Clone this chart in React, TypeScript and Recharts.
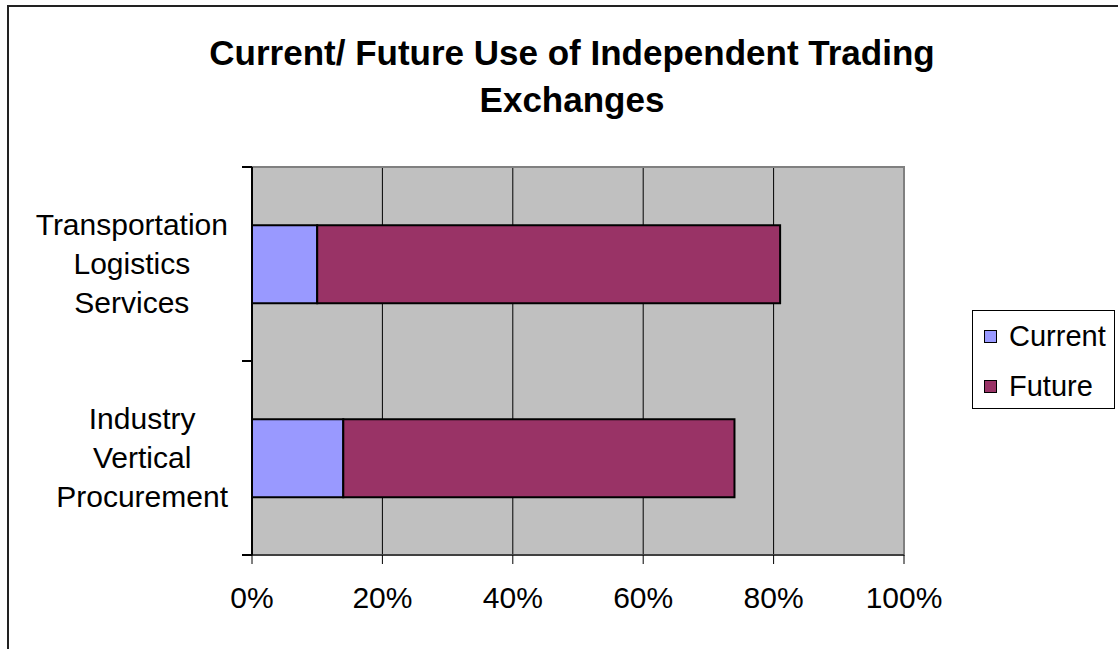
import React from "react";
import {
  BarChart,
  Bar,
  XAxis,
  YAxis,
  CartesianGrid,
  Legend,
  ReferenceArea,
} from "recharts";

const categories = [
  "Transportation Logistics Services",
  "Industry Vertical Procurement",
];
const currentValues = [10, 14];
const futureValues = [71, 60];
const xTicks = [0, 20, 40, 60, 80, 100];
const gridTicks = [20, 40, 60, 80];
const seriesKeys = ["current", "future"];
const seriesNames = ["Current", "Future"];
const seriesColors = ["#9999FF", "#993366"];

const data = categories.map((name, i) => ({
  name,
  current: currentValues[i],
  future: futureValues[i],
}));

const FONT = '"Liberation Sans", Arial, sans-serif';
const LABEL_SIZE = 30;
const AXIS_X = 252;
const LABEL_RIGHT = 228;

let measureCtx: CanvasRenderingContext2D | null = null;
function textWidth(s: string) {
  if (!measureCtx) measureCtx = document.createElement("canvas").getContext("2d");
  if (!measureCtx) return s.length * 15;
  measureCtx.font = `${LABEL_SIZE}px ${FONT}`;
  return measureCtx.measureText(s).width;
}

function CategoryTick(props: any) {
  const { y, payload } = props;
  const lines = String(payload.value).split(" ");
  const half = payload.offset ?? 97;
  const blockW = Math.max(...lines.map(textWidth));
  const cx = LABEL_RIGHT - blockW / 2;
  return (
    <g>
      <line x1={AXIS_X - 10} x2={AXIS_X} y1={y - half} y2={y - half} stroke="#000" strokeWidth={2} />
      <line x1={AXIS_X - 10} x2={AXIS_X} y1={y + half} y2={y + half} stroke="#000" strokeWidth={2} />
      <text textAnchor="middle" fontSize={LABEL_SIZE} fontFamily={FONT} fill="#000">
        {lines.map((l, i) => (
          <tspan key={i} x={cx} y={y + (i - (lines.length - 1) / 2) * 39 + 10}>
            {l}
          </tspan>
        ))}
      </text>
    </g>
  );
}

// only the inner gridlines, edges are drawn by axes / plot border
const gridGen = (p: any) => {
  const s = p?.xAxis?.scale;
  if (typeof s === "function") return gridTicks.map((v) => s(v));
  if (s && typeof s.map === "function") return gridTicks.map((v) => s.map(v));
  const off = p?.offset;
  const lo = xTicks[0];
  const hi = xTicks[xTicks.length - 1];
  return gridTicks.map((v) => off.left + (off.width * (v - lo)) / (hi - lo));
};

function LegendBox() {
  return (
    <div
      style={{
        boxSizing: "border-box",
        width: 143,
        height: 99,
        border: "1px solid #000",
        background: "#fff",
        paddingLeft: 11,
        fontFamily: FONT,
        fontSize: 29,
        lineHeight: "50px",
        color: "#000",
      }}
    >
      {seriesNames.map((n, i) => (
        <div key={n} style={{ display: "flex", alignItems: "center", height: 50 }}>
          <span
            style={{
              display: "inline-block",
              boxSizing: "border-box",
              width: 13,
              height: 13,
              background: seriesColors[i],
              border: "1px solid #000",
              marginRight: 12,
            }}
          />
          <span>{n}</span>
        </div>
      ))}
    </div>
  );
}

export default function App() {
  return (
    <div
      style={{
        position: "fixed",
        left: 0,
        top: 0,
        width: 1118,
        height: 649,
        overflow: "hidden",
        background: "#fff",
        fontFamily: FONT,
      }}
    >
      <div
        style={{
          position: "absolute",
          left: 7,
          top: 5,
          width: 1200,
          height: 700,
          border: "2px solid #222",
        }}
      />
      <div
        style={{
          position: "absolute",
          left: 72,
          top: 29,
          width: 1000,
          textAlign: "center",
          fontSize: 35,
          fontWeight: "bold",
          lineHeight: "47px",
          color: "#000",
          whiteSpace: "nowrap",
        }}
      >
        Current/ Future Use of Independent Trading
        <br />
        Exchanges
      </div>
      <div style={{ position: "absolute", left: 0, top: 0 }}>
        <BarChart
          width={1118}
          height={649}
          data={data}
          layout="vertical"
          margin={{ top: 167, right: 214, bottom: 0, left: 0 }}
          barCategoryGap="30%"
        >
          <CartesianGrid
            horizontal={false}
            stroke="#000"
            fill="#C0C0C0"
            fillOpacity={1}
            verticalCoordinatesGenerator={gridGen}
          />
          <ReferenceArea x1={0} x2={100} fill="none" stroke="#808080" strokeWidth={2} />
          <XAxis
            type="number"
            domain={[0, 100]}
            ticks={xTicks}
            interval={0}
            tickFormatter={(v) => `${v}%`}
            tickSize={9}
            tickMargin={23}
            height={94}
            axisLine={{ stroke: "#000", strokeWidth: 1 }}
            tickLine={{ stroke: "#000" }}
            tick={{ fontSize: LABEL_SIZE, fill: "#000", fontFamily: FONT }}
          />
          <YAxis
            type="category"
            dataKey="name"
            width={252}
            interval={0}
            tickLine={false}
            axisLine={{ stroke: "#000", strokeWidth: 2 }}
            tick={<CategoryTick />}
          />
          {seriesKeys.map((k, i) => (
            <Bar
              key={k}
              dataKey={k}
              name={seriesNames[i]}
              stackId="a"
              fill={seriesColors[i]}
              stroke="#000"
              strokeWidth={2}
              isAnimationActive={false}
            />
          ))}
          <Legend
            layout="vertical"
            align="center"
            verticalAlign="middle"
            content={() => <LegendBox />}
            wrapperStyle={{ left: 972, top: 310, width: 143, height: 99 }}
          />
        </BarChart>
      </div>
    </div>
  );
}
